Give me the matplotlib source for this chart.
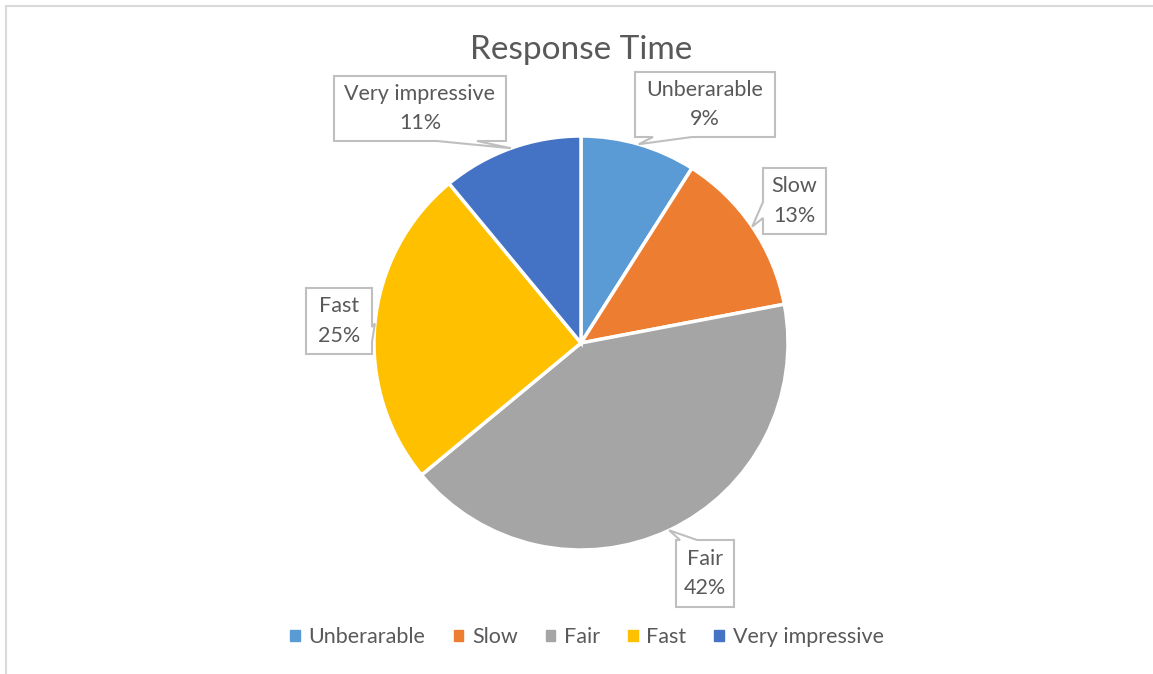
import numpy as np
import matplotlib
matplotlib.use("Agg")
from matplotlib import pyplot as plt
from matplotlib.patches import Polygon, Rectangle

labels = ['Unberarable', 'Slow', 'Fair', 'Fast', 'Very impressive']
shares = [9, 13, 42, 25, 11]
colors = ['#5B9BD5', '#ED7D31', '#A5A5A5', '#FFC000', '#4472C4']

W, H = 1153, 674
TXT = '#595959'
plt.rcParams['font.family'] = ['Lato', 'DejaVu Sans']

# pie placement in pixels (y measured from top)
cx, cy, R = 581, 343, 207

# callout boxes: (x0, y0, x1, y1), side the pointer leaves from, pointer base span
callouts = [
    ((635, 72, 775, 137), 'bottom', (653, 692)),
    ((763, 168, 826, 234), 'left', (202, 218)),
    ((676, 540, 734, 607), 'top', (680, 697)),
    ((306, 288, 372, 354), 'right', (327, 342)),
    ((334, 76, 506, 141), 'bottom', (437, 477)),
]


def fy(y):
    return H - y


fig = plt.figure(figsize=(W / 100, H / 100), dpi=100)
ax = fig.add_axes([0, 0, 1, 1])

wedges, _ = ax.pie(shares, colors=colors, startangle=90, counterclock=False,
                   center=(cx, fy(cy)), radius=R,
                   wedgeprops=dict(edgecolor='white', linewidth=2.5))

ax.set_xlim(0, W)
ax.set_ylim(0, H)
ax.set_aspect('equal')
ax.axis('off')

# chart border
ax.add_patch(Rectangle((5.5, fy(1000)), 2000, fy(5.5) - fy(1000), fill=False,
                       edgecolor='#d9d9d9', linewidth=1.5))

ax.text(cx, fy(50), 'Response Time', ha='center', va='center',
        fontsize=24, color=TXT)

# data callouts pointing at the middle of each slice
total = sum(shares)
acc = 0
for lab, val, (box, side, base) in zip(labels, shares, callouts):
    mid = 90 - (acc + val / 2) / total * 360
    acc += val
    tx = cx + R * np.cos(np.radians(mid))
    ty = cy - R * np.sin(np.radians(mid))
    x0, y0, x1, y1 = box
    b0, b1 = base
    if side == 'bottom':
        pts = [(x0, y0), (x1, y0), (x1, y1), (b1, y1), (tx, ty), (b0, y1), (x0, y1)]
    elif side == 'top':
        pts = [(x0, y0), (b0, y0), (tx, ty), (b1, y0), (x1, y0), (x1, y1), (x0, y1)]
    elif side == 'left':
        pts = [(x0, y0), (x1, y0), (x1, y1), (x0, y1), (x0, b1), (tx, ty), (x0, b0)]
    else:
        pts = [(x0, y0), (x1, y0), (x1, b0), (tx, ty), (x1, b1), (x1, y1), (x0, y1)]
    ax.add_patch(Polygon([(px, fy(py)) for px, py in pts], closed=True,
                         facecolor='white', edgecolor='#bfbfbf', linewidth=1.5,
                         zorder=3))
    ax.text((x0 + x1) / 2, fy((y0 + y1) / 2), f'{lab}\n{val}%', ha='center',
            va='center', fontsize=15.5, color=TXT, linespacing=1.6, zorder=4)

handles = [plt.Rectangle((0, 0), 1, 1, color=c) for c in colors]
fig.legend(handles, labels, loc='center', bbox_to_anchor=(587 / W, 1 - 637 / H),
           ncol=5, frameon=False, fontsize=15.5, labelcolor=TXT,
           handlelength=0.45, handleheight=0.45, handletextpad=0.4,
           columnspacing=1.3)

fig.savefig('out.png', dpi=100)
